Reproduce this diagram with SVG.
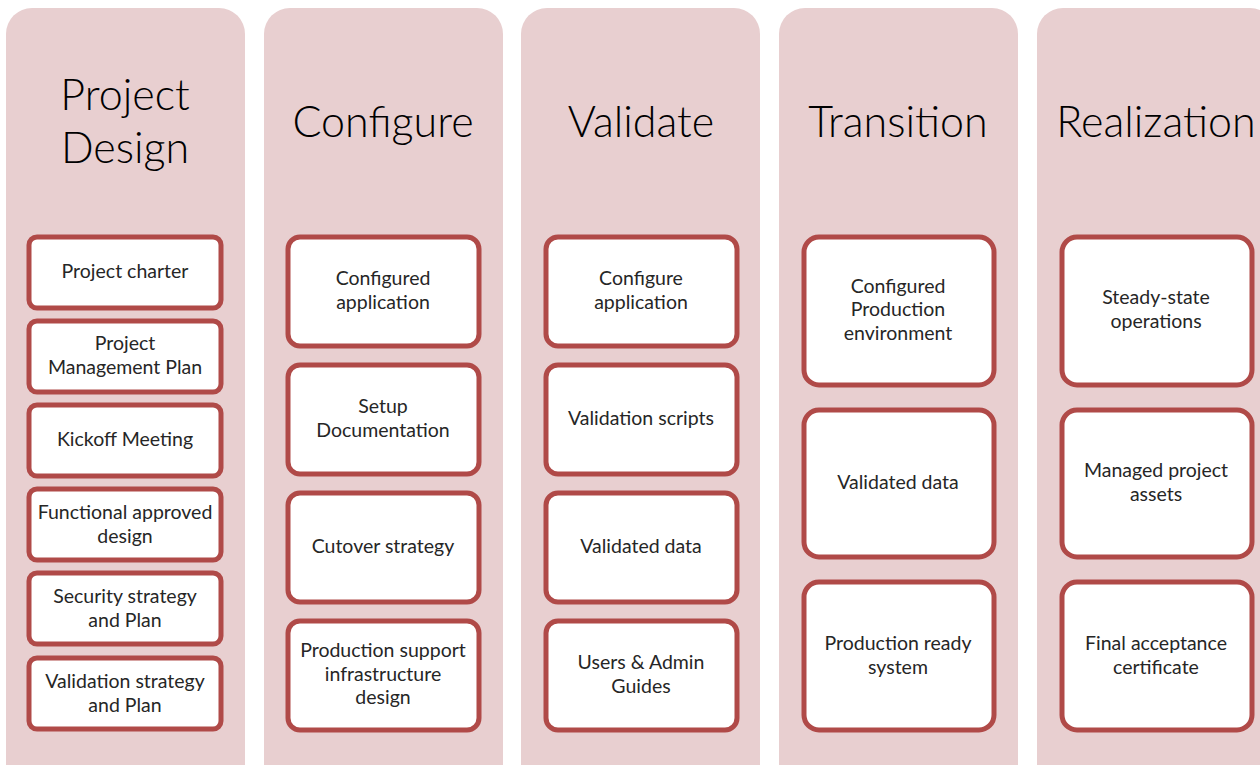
<svg xmlns="http://www.w3.org/2000/svg" width="1260" height="765" viewBox="0 0 1260 765">
  <style>
    .lane { fill: #e8cfd0; }
    .title { font-family: Lato, "Liberation Sans", sans-serif; font-weight: 300; font-size: 43px; fill: #000; text-anchor: middle; }
    .box rect { fill: #fff; stroke: #b04a48; stroke-width: 5; }
    .box text { font-family: Lato, "Liberation Sans", sans-serif; font-size: 19.5px; fill: #262626; text-anchor: middle; }
  </style>
  <rect width="1260" height="765" fill="#fff"/>

  <!-- phase lanes -->
  <g id="lanes">
    <rect class="lane" x="6" y="8" width="239" height="800" rx="26"/>
    <rect class="lane" x="264" y="8" width="239" height="800" rx="26"/>
    <rect class="lane" x="521" y="8" width="239" height="800" rx="26"/>
    <rect class="lane" x="779" y="8" width="239" height="800" rx="26"/>
    <rect class="lane" x="1037" y="8" width="239" height="800" rx="26"/>
  </g>

  <g id="titles">
    <text class="title" x="125" y="110">Project</text>
    <text class="title" x="125" y="163">Design</text>
    <text class="title" x="383" y="137">Configure</text>
    <text class="title" x="641" y="137">Validate</text>
    <text class="title" x="898" y="137">Transition</text>
    <text class="title" x="1156" y="137">Realization</text>
  </g>

  <!-- Project Design -->
  <g id="pd1" class="box"><rect x="29" y="237" width="192" height="71" rx="8"/><text x="125" y="278">Project charter</text></g>
  <g id="pd2" class="box"><rect x="29" y="321" width="192" height="71" rx="8"/><text x="125" y="350">Project</text><text x="125" y="374">Management Plan</text></g>
  <g id="pd3" class="box"><rect x="29" y="405" width="192" height="71" rx="8"/><text x="125" y="446">Kickoff Meeting</text></g>
  <g id="pd4" class="box"><rect x="29" y="489" width="192" height="71" rx="8"/><text x="125" y="519">Functional approved</text><text x="125" y="543">design</text></g>
  <g id="pd5" class="box"><rect x="29" y="573" width="192" height="71" rx="8"/><text x="125" y="603">Security strategy</text><text x="125" y="627">and Plan</text></g>
  <g id="pd6" class="box"><rect x="29" y="658" width="192" height="71" rx="8"/><text x="125" y="688">Validation strategy</text><text x="125" y="712">and Plan</text></g>

  <!-- Configure -->
  <g id="cf1" class="box"><rect x="288" y="237" width="191" height="109" rx="12"/><text x="383" y="285">Configured</text><text x="383" y="309">application</text></g>
  <g id="cf2" class="box"><rect x="288" y="365" width="191" height="109" rx="12"/><text x="383" y="413">Setup</text><text x="383" y="437">Documentation</text></g>
  <g id="cf3" class="box"><rect x="288" y="493" width="191" height="109" rx="12"/><text x="383" y="553">Cutover strategy</text></g>
  <g id="cf4" class="box"><rect x="288" y="621" width="191" height="109" rx="12"/><text x="383" y="657">Production support</text><text x="383" y="681">infrastructure</text><text x="383" y="704">design</text></g>

  <!-- Validate -->
  <g id="vl1" class="box"><rect x="546" y="237" width="191" height="109" rx="12"/><text x="641" y="285">Configure</text><text x="641" y="309">application</text></g>
  <g id="vl2" class="box"><rect x="546" y="365" width="191" height="109" rx="12"/><text x="641" y="425">Validation scripts</text></g>
  <g id="vl3" class="box"><rect x="546" y="493" width="191" height="109" rx="12"/><text x="641" y="553">Validated data</text></g>
  <g id="vl4" class="box"><rect x="546" y="621" width="191" height="109" rx="12"/><text x="641" y="669">Users &amp; Admin</text><text x="641" y="693">Guides</text></g>

  <!-- Transition -->
  <g id="tr1" class="box"><rect x="804" y="237" width="190" height="148" rx="15"/><text x="898" y="293">Configured</text><text x="898" y="316">Production</text><text x="898" y="340">environment</text></g>
  <g id="tr2" class="box"><rect x="804" y="410" width="190" height="147" rx="15"/><text x="898" y="489">Validated data</text></g>
  <g id="tr3" class="box"><rect x="804" y="582" width="190" height="148" rx="15"/><text x="898" y="650">Production ready</text><text x="898" y="674">system</text></g>

  <!-- Realization -->
  <g id="rz1" class="box"><rect x="1062" y="237" width="190" height="148" rx="15"/><text x="1156" y="304">Steady-state</text><text x="1156" y="328">operations</text></g>
  <g id="rz2" class="box"><rect x="1062" y="410" width="190" height="147" rx="15"/><text x="1156" y="477">Managed project</text><text x="1156" y="501">assets</text></g>
  <g id="rz3" class="box"><rect x="1062" y="582" width="190" height="148" rx="15"/><text x="1156" y="650">Final acceptance</text><text x="1156" y="674">certificate</text></g>

  <!-- no connectors between phases -->
  <g id="connectors"/>
</svg>
